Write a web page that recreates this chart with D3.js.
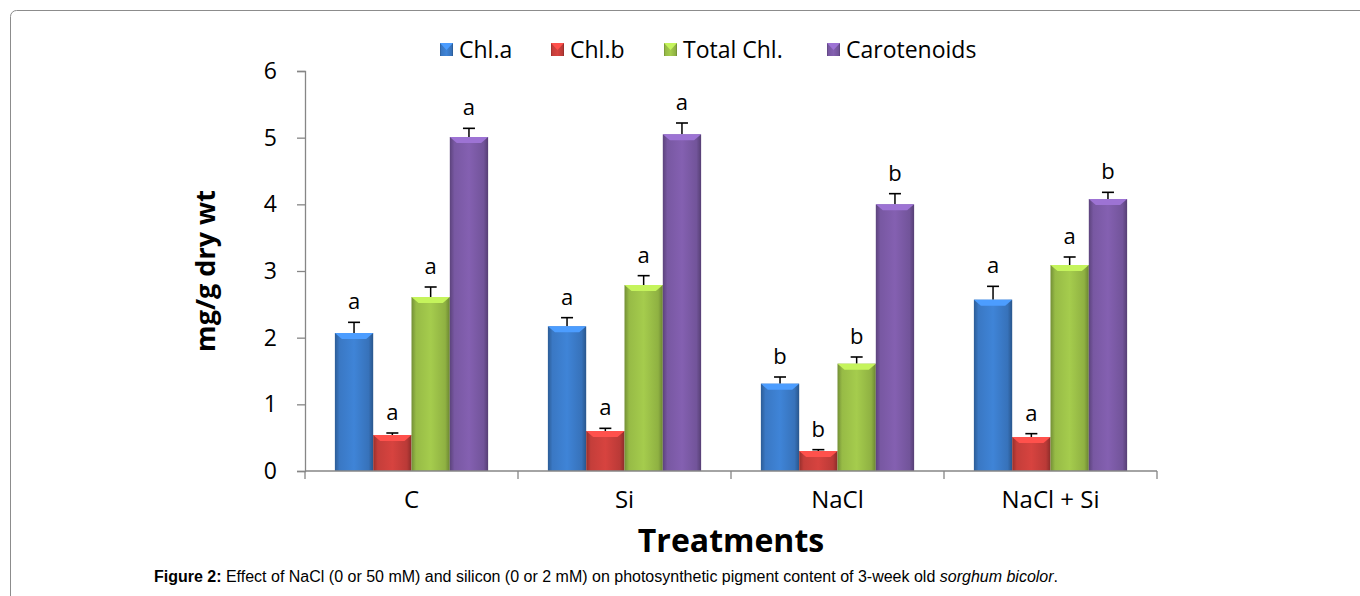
<!DOCTYPE html>
<html>
<head>
<meta charset="utf-8">
<script src="https://cdn.jsdelivr.net/npm/d3@7"></script>
<style>
  body { margin: 0; background: #fff; }
  svg { display: block; }
</style>
</head>
<body>
<div id="chart"></div>
<script>
// data
const treatments = ['C', 'Si', 'NaCl', 'NaCl + Si'];
const pigments = ['Chl.a', 'Chl.b', 'Total Chl.', 'Carotenoids'];
const chlA = [2.07, 2.17, 1.31, 2.57];
const chlB = [0.54, 0.60, 0.30, 0.51];
const totalChl = [2.61, 2.79, 1.61, 3.09];
const carotenoids = [5.01, 5.05, 4.00, 4.08];
const chlAErr = [0.16, 0.13, 0.10, 0.20];
const chlBErr = [0.03, 0.04, 0.02, 0.05];
const totalChlErr = [0.15, 0.14, 0.10, 0.12];
const carotenoidsErr = [0.13, 0.17, 0.16, 0.10];
const chlALetters = ['a', 'a', 'b', 'a'];
const chlBLetters = ['a', 'a', 'b', 'a'];
const totalChlLetters = ['a', 'a', 'b', 'a'];
const carotenoidsLetters = ['a', 'a', 'b', 'b'];
const yTicks = [0, 1, 2, 3, 4, 5, 6];

const seriesValues = [chlA, chlB, totalChl, carotenoids];
const seriesErr = [chlAErr, chlBErr, totalChlErr, carotenoidsErr];
const seriesLetters = [chlALetters, chlBLetters, totalChlLetters, carotenoidsLetters];
const colors = ['#3d7fcf', '#cf413d', '#9fc54a', '#7f5dab'];

const font = '"Open Sans", Lato, sans-serif';
const width = 1360, height = 596;
const plot = { left: 305, right: 1157, top: 71, bottom: 471 };

const svg = d3.select('#chart').append('svg')
    .attr('width', width)
    .attr('height', height);

// outer frame
svg.append('rect')
    .attr('x', 10.5).attr('y', 10.5)
    .attr('width', 1400).attr('height', 700)
    .attr('rx', 6)
    .attr('fill', 'none')
    .attr('stroke', '#8c8c8c')
    .attr('stroke-width', 1);

const defs = svg.append('defs');
colors.forEach((c, i) => {
    const g = defs.append('linearGradient')
        .attr('id', 'grad' + i)
        .attr('x1', '0%').attr('x2', '100%').attr('y1', '0%').attr('y2', '0%');
    const base = d3.color(c);
    g.append('stop').attr('offset', '0%').attr('stop-color', base.darker(0.9));
    g.append('stop').attr('offset', '12%').attr('stop-color', base.darker(0.15));
    g.append('stop').attr('offset', '50%').attr('stop-color', base.brighter(0.1));
    g.append('stop').attr('offset', '88%').attr('stop-color', base.darker(0.3));
    g.append('stop').attr('offset', '100%').attr('stop-color', base.darker(1.1));
});

const x0 = d3.scaleBand().domain(treatments).range([plot.left, plot.right]);
const x1 = d3.scaleBand().domain(pigments).range([0, x0.bandwidth()]).paddingOuter(0.78);
const y = d3.scaleLinear().domain([0, 6]).range([plot.bottom, plot.top]);

// y axis
const yAxis = svg.append('g')
    .attr('transform', `translate(${plot.left}, 0)`)
    .call(d3.axisLeft(y).tickValues(yTicks).tickFormat(d3.format('d')).tickSize(8).tickPadding(20));
yAxis.select('.domain').attr('stroke', '#868686').attr('stroke-width', 1.3);
yAxis.selectAll('.tick line').attr('stroke', '#868686').attr('stroke-width', 1.3);
yAxis.selectAll('.tick text')
    .attr('font-family', font)
    .attr('font-size', 23)
    .attr('fill', '#000');

// bars
const groups = svg.append('g').selectAll('g')
    .data(treatments)
    .join('g')
    .attr('transform', d => `translate(${x0(d)}, 0)`);

const bw = x1.bandwidth();
groups.each(function(t, ti) {
    const g = d3.select(this);
    pigments.forEach((p, si) => {
        const v = seriesValues[si][ti];
        const e = seriesErr[si][ti];
        const bx = x1(p);
        const top = y(v);
        const base = d3.color(colors[si]);

        // error bar (upper only)
        g.append('line')
            .attr('x1', bx + bw / 2).attr('x2', bx + bw / 2)
            .attr('y1', top).attr('y2', y(v + e))
            .attr('stroke', '#000').attr('stroke-width', 1.5);
        g.append('line')
            .attr('x1', bx + bw / 2 - 6).attr('x2', bx + bw / 2 + 6)
            .attr('y1', y(v + e)).attr('y2', y(v + e))
            .attr('stroke', '#000').attr('stroke-width', 1.6);

        g.append('rect')
            .attr('x', bx).attr('y', top)
            .attr('width', bw).attr('height', y(0) - top)
            .attr('fill', `url(#grad${si})`);
        // top bevel
        g.append('path')
            .attr('d', `M${bx},${top}L${bx + bw},${top}L${bx + bw - 7},${top + 6}L${bx + 7},${top + 6}Z`)
            .attr('fill', base.brighter(0.6));

        g.append('text')
            .attr('x', bx + bw / 2)
            .attr('y', y(v + e) - 13)
            .attr('text-anchor', 'middle')
            .attr('font-family', font)
            .attr('font-size', 22)
            .text(seriesLetters[si][ti]);
    });
});

// x axis
const xAxis = svg.append('g')
    .attr('transform', `translate(0, ${plot.bottom})`);
xAxis.append('line')
    .attr('x1', plot.left).attr('x2', plot.right)
    .attr('stroke', '#868686').attr('stroke-width', 1.3);
xAxis.selectAll('line.tk')
    .data([...treatments.map(d => x0(d)), plot.right])
    .join('line')
    .attr('class', 'tk')
    .attr('x1', d => d).attr('x2', d => d)
    .attr('y1', 0).attr('y2', 8)
    .attr('stroke', '#868686').attr('stroke-width', 1.3);
xAxis.selectAll('text')
    .data(treatments)
    .join('text')
    .attr('x', d => x0(d) + x0.bandwidth() / 2)
    .attr('y', 37)
    .attr('text-anchor', 'middle')
    .attr('font-family', font)
    .attr('font-size', 24)
    .text(d => d);

// axis titles
svg.append('text')
    .attr('transform', `translate(215, ${(plot.top + plot.bottom) / 2}) rotate(-90)`)
    .attr('text-anchor', 'middle')
    .attr('font-family', font)
    .attr('font-weight', 'bold')
    .attr('font-size', 27)
    .text('mg/g dry wt');

svg.append('text')
    .attr('x', (plot.left + plot.right) / 2)
    .attr('y', 552)
    .attr('text-anchor', 'middle')
    .attr('font-family', font)
    .attr('font-weight', 'bold')
    .attr('font-size', 32)
    .text('Treatments');

// legend
const legendX = [440, 551, 664, 827];
const legend = svg.append('g');
pigments.forEach((p, i) => {
    const base = d3.color(colors[i]);
    legend.append('rect')
        .attr('x', legendX[i]).attr('y', 43)
        .attr('width', 13).attr('height', 13)
        .attr('fill', `url(#grad${i})`);
    legend.append('path')
        .attr('d', `M${legendX[i]},43L${legendX[i] + 13},43L${legendX[i] + 6.5},50Z`)
        .attr('fill', base.brighter(0.6));
    legend.append('text')
        .attr('x', legendX[i] + 19).attr('y', 58)
        .attr('font-family', font)
        .attr('font-size', 23)
        .text(p);
});

// caption
const cap = svg.append('text')
    .attr('x', 606).attr('y', 582)
    .attr('text-anchor', 'middle')
    .attr('font-family', '"Liberation Sans", Arial, sans-serif')
    .attr('font-size', 16);
cap.append('tspan').attr('font-weight', 'bold').text('Figure 2:');
cap.append('tspan').text(' Effect of NaCl (0 or 50 mM) and silicon (0 or 2 mM) on photosynthetic pigment content of 3-week old ');
cap.append('tspan').attr('font-style', 'italic').text('sorghum bicolor');
cap.append('tspan').text('.');
</script>
</body>
</html>
